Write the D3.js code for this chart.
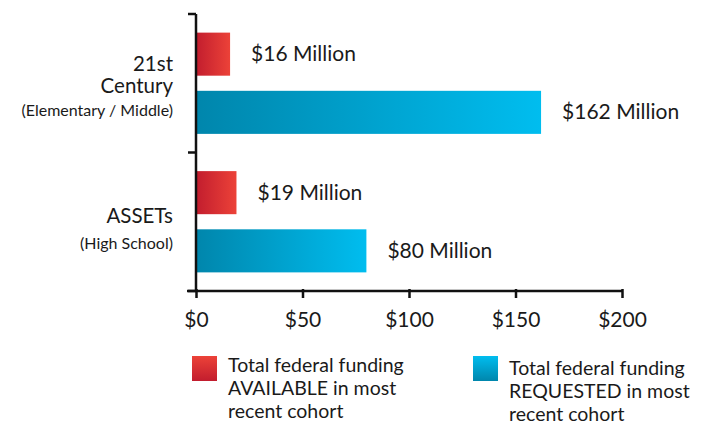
<!DOCTYPE html>
<html><head><meta charset="utf-8">
<script src="https://cdn.jsdelivr.net/npm/d3@7"></script>
<style>body{margin:0;background:#fff}svg text{font-family:"Lato","Open Sans",sans-serif;fill:#1a1a1a}</style>
</head><body><svg id="c" width="727" height="425"></svg>
<script>
const categories = ["21st Century", "ASSETs"];
const available = [16, 19];
const requested = [162, 80];
const xTicks = [0, 50, 100, 150, 200];
const seriesNames = ["Total federal funding AVAILABLE in most recent cohort", "Total federal funding REQUESTED in most recent cohort"];

const svg = d3.select("#c");
const defs = svg.append("defs");
function grad(id, c1, c2, vertical){
  const g = defs.append("linearGradient").attr("id", id)
    .attr("x1", 0).attr("y1", 0).attr("x2", vertical?0:1).attr("y2", vertical?1:0);
  g.append("stop").attr("offset", "0%").attr("stop-color", c1);
  g.append("stop").attr("offset", "100%").attr("stop-color", c2);
}
grad("gr", "#c21d2e", "#ec4238", false);
grad("gb", "#0086ac", "#00bdef", false);
grad("grv", "#ec4238", "#c21d2e", true);
grad("gbv", "#00bdef", "#0086ac", true);

const x = d3.scaleLinear().domain([0, 200]).range([196, 622]);
const y = d3.scaleBand().domain(categories).range([14, 291]);

// bars
const inner = d3.scaleBand().domain(["a","r"]).range([0, y.bandwidth()]).paddingInner(0.26).paddingOuter(0.32);
const g = svg.append("g");
categories.forEach((c, i) => {
  const vals = [["a", available[i], "url(#gr)"], ["r", requested[i], "url(#gb)"]];
  vals.forEach(([k, v, f]) => {
    const yy = y(c) + inner(k);
    g.append("rect").attr("x", x(0)).attr("y", yy).attr("width", x(v) - x(0)).attr("height", inner.bandwidth()).attr("fill", f);
    g.append("text").attr("x", x(v) + 21).attr("y", yy + inner.bandwidth()/2).attr("dy", "0.33em")
      .attr("font-size", 21).text("$" + v + " Million");
  });
});

// x axis
const xa = svg.append("g").attr("transform", "translate(0,291)")
  .call(d3.axisBottom(x).tickValues(xTicks).tickSize(7).tickSizeOuter(0).tickFormat(d => "$" + d));
xa.select(".domain").attr("d", "M187,0H622").attr("stroke", "#111").attr("stroke-width", 2.5);
xa.selectAll(".tick line").attr("stroke", "#111").attr("stroke-width", 2.5).attr("y1", -2);
xa.selectAll(".tick text").attr("font-size", 21).attr("dy", 0).attr("y", 36).attr("fill", "#1a1a1a");

// y axis
const ya = svg.append("g").attr("transform", "translate(196,0)");
ya.append("line").attr("x1", 0).attr("x2", 0).attr("y1", 14).attr("y2", 292).attr("stroke", "#111").attr("stroke-width", 2.5);
[14, y("ASSETs"), 291].forEach(t => {
  ya.append("line").attr("x1", -8).attr("x2", 0).attr("y1", t).attr("y2", t).attr("stroke", "#111").attr("stroke-width", 2.5);
});

// category labels
const lab = svg.append("g").attr("text-anchor", "end");
lab.append("text").attr("x", 173).attr("y", 71).attr("font-size", 20.5).text("21st");
lab.append("text").attr("x", 173).attr("y", 93).attr("font-size", 20.5).text("Century");
lab.append("text").attr("x", 173).attr("y", 116).attr("font-size", 16).text("(Elementary / Middle)");
lab.append("text").attr("x", 173).attr("y", 223).attr("font-size", 20.5).text("ASSETs");
lab.append("text").attr("x", 173).attr("y", 249).attr("font-size", 16).text("(High School)");

// legend
const leg = [
  {x: 192, fill: "url(#grv)", lines: ["Total federal funding", "AVAILABLE in most", "recent cohort"], y0: 372},
  {x: 473, fill: "url(#gbv)", lines: ["Total federal funding", "REQUESTED in most", "recent cohort"], y0: 374.5}
];
leg.forEach(l => {
  svg.append("rect").attr("x", l.x).attr("y", 356).attr("width", 25).attr("height", 25).attr("fill", l.fill);
  const t = svg.append("text").attr("x", l.x + 36).attr("y", l.y0).attr("font-size", 19.5);
  l.lines.forEach((s, i) => t.append("tspan").attr("x", l.x + 36).attr("dy", i ? 23 : 0).text(s));
});
</script></body></html>
